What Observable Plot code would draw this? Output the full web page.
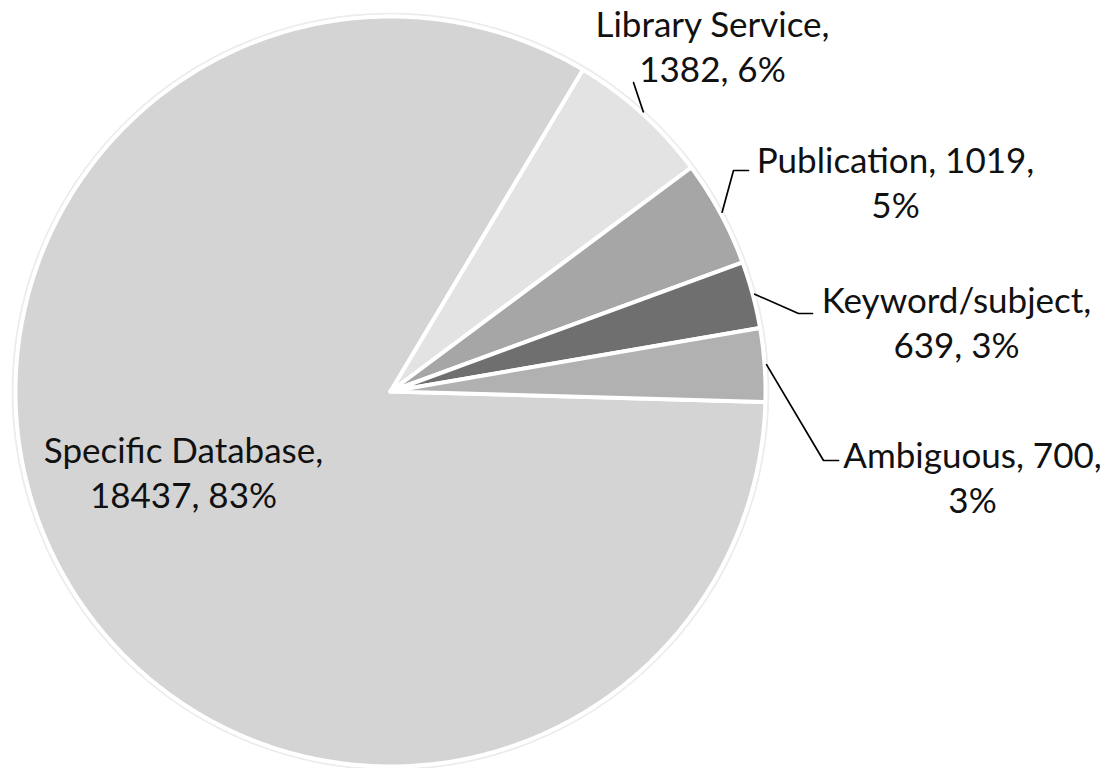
<!DOCTYPE html>
<html><head><meta charset="utf-8">
<script src="https://cdn.jsdelivr.net/npm/d3@7"></script>
<script src="https://cdn.jsdelivr.net/npm/@observablehq/plot@0.6"></script>
<style>body{margin:0;background:#fff} #chart svg{display:block}</style>
</head><body><div id="chart"></div>
<script>
// ---- data ----
const categories = ["Specific Database", "Library Service", "Publication", "Keyword/subject", "Ambiguous"];
const counts = [18437, 1382, 1019, 639, 700];
const percents = [83, 6, 5, 3, 3];

// ---- style / layout ----
const colors = ["#d4d4d4", "#e3e3e3", "#a6a6a6", "#6f6f6f", "#b1b1b1"];
const W = 1112, H = 768, CX = 390, CY = 391, R = 375;
const startDeg = 91.6;           // first slice angle (clockwise from 12 o'clock)
const FS = 35, LH = 45;          // font size, line height (px)
// label anchors in pixels: x = text centre, y = last baseline; leader = elbow/end points
const labelLayout = [
  {x: 183, y: 507, brk: "name",  leader: null},
  {x: 712, y: 81,  brk: "name",  leader: [[633, 82]]},
  {x: 895, y: 217, brk: "count", leader: [[733, 170], [748, 170]]},
  {x: 956, y: 357, brk: "name",  leader: [[798, 313], [812, 313]]},
  {x: 972, y: 512, brk: "count", leader: [[823, 460], [838, 460]]}
];

const ux = px => (px - CX) / R;
const uy = py => (CY - py) / R;

const rows = categories.map((name, i) => ({name, count: counts[i], pct: percents[i]}));
const a0 = startDeg * Math.PI / 180;
const arcs = d3.pie().value(d => d.count).sort(null).startAngle(a0).endAngle(a0 + 2 * Math.PI)(rows);

// slice outlines in unit-circle coordinates
const slicePts = [];
arcs.forEach(a => {
  const name = a.data.name;
  slicePts.push({name, x: 0, y: 0});
  const n = Math.max(2, Math.ceil((a.endAngle - a.startAngle) / (Math.PI / 360)));
  for (let k = 0; k <= n; k++) {
    const t = a.startAngle + (a.endAngle - a.startAngle) * k / n;
    slicePts.push({name, x: Math.sin(t), y: Math.cos(t)});
  }
  slicePts.push({name, x: 0, y: 0});
});

// leader lines: start on the rim at the slice's mid-angle
const leaderPts = [];
arcs.forEach((a, i) => {
  const L = labelLayout[i].leader;
  if (!L) return;
  const m = (a.startAngle + a.endAngle) / 2, rr = (R + 2) / R;
  leaderPts.push({name: a.data.name, x: rr * Math.sin(m), y: rr * Math.cos(m)});
  L.forEach(([px, py]) => leaderPts.push({name: a.data.name, x: ux(px), y: uy(py)}));
});

const labels = rows.map((d, i) => {
  const L = labelLayout[i];
  const text = L.brk === "name"
    ? `${d.name},\n${d.count}, ${d.pct}%`
    : `${d.name}, ${d.count},\n${d.pct}%`;
  return {text, x: ux(L.x), y: uy(L.y)};
});

const chart = Plot.plot({
  width: W, height: H,
  margin: 0,
  style: {background: "#fff", fontFamily: "Lato, 'Noto Sans', sans-serif"},
  x: {domain: [ux(0), ux(W)], range: [0, W], axis: null},
  y: {domain: [uy(0), uy(H)], range: [0, H], axis: null},
  color: {domain: categories, range: colors},
  marks: [
    Plot.dot([{x: 0, y: 0}], {x: "x", y: "y", r: R + 2.8, fill: "none", stroke: "#ececec", strokeWidth: 2}),
    Plot.line(slicePts, {x: "x", y: "y", z: "name", fill: "name", stroke: "#fff", strokeWidth: 4, strokeLinejoin: "round", curve: "linear"}),
    Plot.line(leaderPts, {x: "x", y: "y", z: "name", stroke: "#000", strokeWidth: 1.7}),
    Plot.text(labels, {x: "x", y: "y", text: "text", fontSize: FS, lineHeight: LH / FS, lineAnchor: "bottom", textAnchor: "middle", fill: "#111"})
  ]
});
document.getElementById("chart").append(chart);
</script>
</body></html>
